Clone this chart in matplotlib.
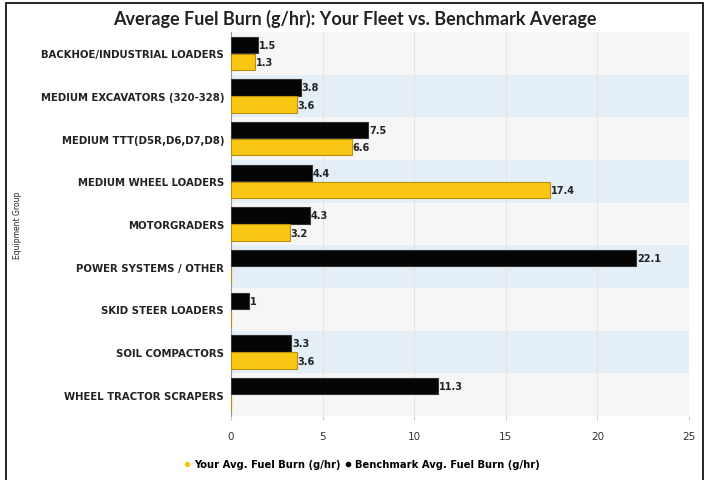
import matplotlib
matplotlib.use("Agg")
import matplotlib.pyplot as plt
from matplotlib.patches import Rectangle
from matplotlib.lines import Line2D
import numpy as np

categories = ["BACKHOE/INDUSTRIAL LOADERS", "MEDIUM EXCAVATORS (320-328)", "MEDIUM TTT(D5R,D6,D7,D8)",
              "MEDIUM WHEEL LOADERS", "MOTORGRADERS", "POWER SYSTEMS / OTHER",
              "SKID STEER LOADERS", "SOIL COMPACTORS", "WHEEL TRACTOR SCRAPERS"]
benchmark = [1.5, 3.8, 7.5, 4.4, 4.3, 22.1, 1, 3.3, 11.3]
your_fleet = [1.3, 3.6, 6.6, 17.4, 3.2, None, None, 3.6, None]
xticks = [0, 5, 10, 15, 20, 25]

plt.rcParams['font.family'] = ['DejaVu Sans']

fig = plt.figure(figsize=(7.1, 4.81), dpi=100)
ax = fig.add_axes([231/710, 1 - 417/481, (689 - 231)/710, (417 - 33)/481])

n = len(categories)
y = np.arange(n)
for i in range(n):
    col = '#e4eef7' if i % 2 == 1 else '#f6f6f6'
    ax.axhspan(i - 0.5, i + 0.5, color=col, zorder=0, lw=0)

bh = 0.38
ax.barh(y - bh/2 - 0.01, benchmark, height=bh, color='#050505', edgecolor='#333333', linewidth=0.8, zorder=3)
yv = [v if v is not None else 0 for v in your_fleet]
ax.barh([yi + bh/2 + 0.01 for yi in y], yv, height=bh, color='#f9c614', edgecolor='#b8900a', linewidth=0.8, zorder=3)

for i, v in enumerate(benchmark):
    ax.text(v + 0.05, i - bh/2 - 0.01, f"{v:g}", va='center', ha='left', fontsize=7, fontweight='bold', color='#222222', zorder=4)
for i, v in enumerate(your_fleet):
    if v is not None:
        ax.text(v + 0.05, i + bh/2 + 0.01, f"{v:g}", va='center', ha='left', fontsize=7, fontweight='bold', color='#222222', zorder=4)

ax.set_xlim(0, 25)
ax.set_ylim(n - 0.5, -0.5)
ax.set_xticks(xticks)
ax.set_xticklabels([str(t) for t in xticks], fontsize=7.5, color='#333333')
ax.set_yticks(y)
ax.set_yticklabels(categories, fontsize=7.3, fontweight='bold', color='#222222')
ax.tick_params(axis='y', length=0, pad=5)
ax.tick_params(axis='x', length=3, color='#cccccc', pad=8)
ax.grid(axis='x', color='#e4e4e4', lw=0.8, zorder=1)
ax.set_axisbelow(True)
for s in ['top', 'right', 'bottom']:
    ax.spines[s].set_visible(False)
ax.spines['left'].set_color('#999999')
ax.spines['left'].set_linewidth(0.8)

fig.text(17/710, 1 - 225/481, "Equipment Group", rotation=90, ha='center', va='center', fontsize=5.5, color='#222222')
fig.text(0.5, 1 - 19/481, "Average Fuel Burn (g/hr): Your Fleet vs. Benchmark Average",
         ha='center', va='center', fontsize=13, fontweight='bold', color='#222222', family=['Lato', 'DejaVu Sans'])

handles = [Line2D([], [], marker='o', ls='', color='#f9c614', markersize=3),
           Line2D([], [], marker='o', ls='', color='#050505', markersize=3)]
fig.legend(handles, ["Your Avg. Fuel Burn (g/hr)", "Benchmark Avg. Fuel Burn (g/hr)"],
           loc='center', bbox_to_anchor=(362/710, 1 - 465/481), ncol=2, frameon=False,
           handletextpad=0.4, columnspacing=0.5, handlelength=0.6,
           prop={'weight': 'bold', 'size': 7.2})

fig.patches.append(Rectangle((6/710, -0.02), (703 - 6)/710, 1.02 - 4/481, transform=fig.transFigure,
                             fill=False, edgecolor='black', lw=1.2))

fig.savefig("out.png", dpi=100)
